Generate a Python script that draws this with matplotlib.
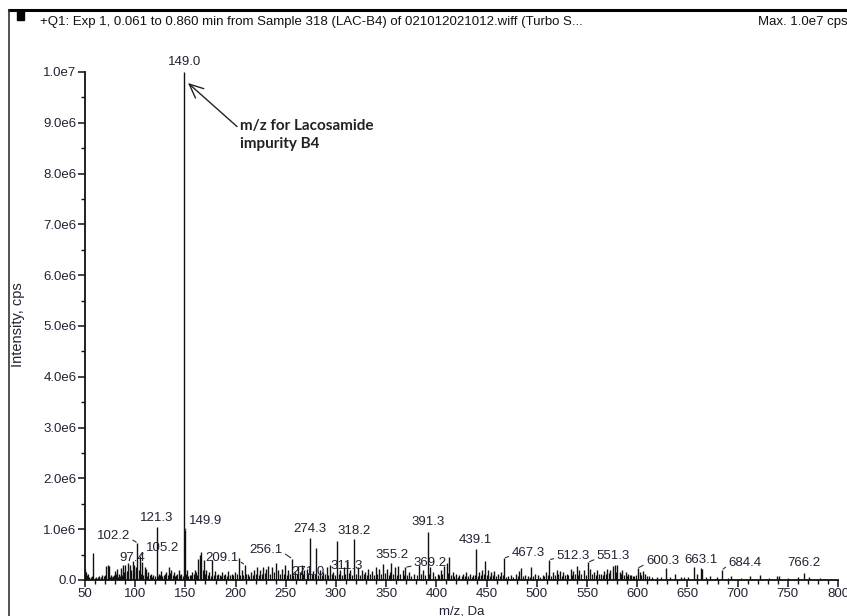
import matplotlib.pyplot as plt
from matplotlib.lines import Line2D
from matplotlib.patches import Rectangle
from matplotlib.ticker import MultipleLocator

plt.rcParams['font.family'] = ['Liberation Sans', 'DejaVu Sans']

# spectrum peaks: m/z and intensity (x1e6 cps)
mz = [50.0, 51.0, 52.0, 54.0, 58.0, 61.0, 64.0, 67.0, 71.0, 72.5, 74.0, 76.0, 78.0,
      80.0, 82.0, 84.0, 86.0, 88.0, 90.0, 93.0, 94.5, 97.4, 99.0, 100.5, 102.2,
      105.2, 107.0, 109.5, 111.0, 113.0, 116.0, 118.0, 121.3, 124.0, 126.0, 128.5,
      131.0, 134.0, 136.0, 139.0, 141.0, 143.5, 146.0, 149.0, 149.9, 152.0, 154.5,
      157.0, 159.7, 163.0, 164.6, 166.0, 168.6, 171.0, 173.5, 176.8, 179.5, 182.8,
      186.0, 189.4, 192.7, 196.0, 199.3, 203.3, 206.0, 209.1, 212.0, 215.3, 218.7,
      221.0, 224.3, 227.6, 230.0, 232.6, 236.0, 240.0, 242.6, 246.0, 249.3, 252.6,
      256.1, 259.0, 262.5, 265.8, 268.5, 271.0, 274.3, 277.0, 280.0, 284.0, 287.5,
      290.8, 294.0, 297.5, 301.0, 304.0, 307.5, 311.3, 314.0, 318.2, 322.0, 325.5,
      329.0, 332.0, 336.0, 339.5, 342.7, 347.0, 350.5, 355.2, 358.6, 362.0, 366.4,
      369.2, 373.0, 378.0, 383.0, 386.3, 391.3, 394.0, 396.4, 401.3, 404.7, 408.0,
      410.3, 413.0, 416.3, 419.7, 423.0, 426.3, 429.7, 433.0, 436.3, 439.1, 442.0,
      445.4, 448.0, 451.4, 454.0, 457.3, 461.4, 464.7, 467.3, 471.0, 474.8, 479.0,
      482.5, 484.0, 488.0, 491.0, 494.6, 498.0, 501.3, 505.7, 509.0, 512.3, 516.4,
      519.7, 523.0, 526.5, 529.8, 533.8, 536.4, 539.7, 542.4, 547.0, 551.3, 553.0,
      557.0, 560.4, 563.7, 567.0, 570.4, 573.0, 575.6, 577.5, 580.0, 582.6, 585.3,
      588.6, 591.0, 594.3, 597.0, 600.3, 602.6, 605.3, 607.6, 612.0, 619.3, 628.6,
      637.6, 644.0, 651.0, 656.6, 660.0, 663.1, 665.0, 672.5, 679.0, 684.4, 693.3,
      712.0, 722.0, 739.0, 741.0, 760.0, 766.2, 771.0]
intensity = [0.22, 0.15, 0.1, 0.06, 0.54, 0.05, 0.08, 0.1, 0.28, 0.3, 0.28, 0.1, 0.08,
             0.18, 0.22, 0.12, 0.23, 0.3, 0.3, 0.33, 0.3, 0.37, 0.3, 0.25, 0.73,
             0.47, 0.36, 0.25, 0.22, 0.15, 0.12, 0.1, 1.05, 0.12, 0.18, 0.1,
             0.15, 0.25, 0.2, 0.15, 0.1, 0.2, 0.12, 10.0, 0.98, 0.2, 0.1,
             0.15, 0.2, 0.42, 0.5, 0.55, 0.4, 0.2, 0.15, 0.4, 0.17, 0.12,
             0.15, 0.12, 0.18, 0.12, 0.15, 0.43, 0.2, 0.3, 0.12, 0.15, 0.2,
             0.25, 0.2, 0.25, 0.22, 0.28, 0.25, 0.33, 0.2, 0.22, 0.3, 0.2,
             0.42, 0.15, 0.28, 0.3, 0.2, 0.22, 0.83, 0.18, 0.63, 0.2, 0.15,
             0.25, 0.3, 0.15, 0.77, 0.2, 0.25, 0.38, 0.2, 0.8, 0.25, 0.2,
             0.15, 0.22, 0.18, 0.25, 0.22, 0.32, 0.22, 0.33, 0.25, 0.28, 0.2,
             0.25, 0.15, 0.12, 0.3, 0.2, 0.94, 0.25, 0.15, 0.12, 0.2, 0.27,
             0.33, 0.45, 0.15, 0.12, 0.1, 0.12, 0.15, 0.12, 0.1, 0.61, 0.15,
             0.2, 0.37, 0.2, 0.15, 0.18, 0.12, 0.15, 0.43, 0.08, 0.1, 0.12,
             0.17, 0.23, 0.1, 0.08, 0.25, 0.12, 0.1, 0.1, 0.15, 0.4, 0.15,
             0.2, 0.18, 0.15, 0.12, 0.22, 0.18, 0.27, 0.2, 0.2, 0.35, 0.22,
             0.15, 0.2, 0.12, 0.18, 0.22, 0.2, 0.28, 0.3, 0.3, 0.15, 0.2,
             0.15, 0.12, 0.1, 0.08, 0.23, 0.15, 0.18, 0.12, 0.08, 0.06, 0.24,
             0.12, 0.06, 0.06, 0.26, 0.12, 0.24, 0.22, 0.08, 0.06, 0.2, 0.08,
             0.08, 0.1, 0.07, 0.07, 0.06, 0.14, 0.05]

# low-level baseline signal between the main peaks
noise_mz = [53.0, 55.5, 57.0, 60.0, 62.5, 66.0, 69.0, 70.0, 75.0, 77.0, 79.0, 81.0,
            83.0, 85.0, 87.0, 89.0, 91.5, 92.0, 96.0, 98.0, 101.0, 103.5, 104.3, 106.0,
            108.0, 110.0, 112.0, 114.5, 117.0, 119.5, 122.5, 125.0, 127.0, 130.0,
            132.5, 135.0, 137.5, 140.0, 142.0, 145.0, 147.5, 151.0, 153.0, 156.0,
            158.5, 161.0, 162.0, 167.3, 170.0, 172.3, 175.0, 178.0, 181.0, 184.0,
            185.0, 188.0, 191.0, 194.0, 197.5, 201.0, 204.5, 207.5, 210.5, 213.5,
            217.0, 220.0, 223.0, 226.0, 229.0, 234.0, 238.0, 244.0, 248.0, 251.0,
            254.0, 257.5, 261.0, 264.0, 267.0, 272.5, 276.0, 279.0, 282.0, 286.0,
            289.0, 292.5, 296.0, 299.0, 302.5, 306.0, 309.0, 312.5, 316.0, 320.0,
            324.0, 327.5, 331.0, 334.0, 338.0, 341.0, 344.5, 349.0, 352.5, 354.0,
            357.0, 360.5, 364.0, 368.0, 371.0, 375.0, 380.5, 385.0, 388.5, 393.0,
            398.5, 403.0, 406.0, 412.0, 415.0, 418.0, 421.5, 425.0, 428.0, 431.5,
            435.0, 438.0, 441.0, 444.0, 447.0, 450.0, 453.0, 456.0, 459.5, 463.0,
            466.0, 469.0, 476.5, 481.0, 486.0, 493.0, 496.5, 503.5, 507.5, 511.0,
            514.5, 518.0, 521.5, 525.0, 528.0, 531.5, 535.0, 538.0, 541.0, 544.5,
            549.0, 555.0, 559.0, 562.0, 565.5, 569.0, 572.0, 579.0, 584.0, 587.0,
            590.0, 593.0, 596.0, 599.0, 604.0, 609.5, 615.0, 624.0, 633.0, 647.0,
            669.0, 690.0, 703.0, 731.0, 750.0, 782.0]
noise_int = [0.12, 0.05, 0.08, 0.04, 0.06, 0.05, 0.07, 0.1, 0.06, 0.05, 0.09, 0.12,
             0.06, 0.08, 0.1, 0.15, 0.18, 0.12, 0.2, 0.14, 0.18, 0.2, 0.15, 0.12,
             0.1, 0.16, 0.08, 0.1, 0.06, 0.08, 0.07, 0.1, 0.08, 0.12,
             0.09, 0.14, 0.1, 0.08, 0.12, 0.09, 0.07, 0.12, 0.08, 0.1,
             0.12, 0.15, 0.1, 0.2, 0.12, 0.1, 0.08, 0.1, 0.09, 0.1,
             0.08, 0.1, 0.08, 0.09, 0.1, 0.12, 0.1, 0.1, 0.12, 0.08,
             0.1, 0.12, 0.1, 0.12, 0.14, 0.12, 0.15, 0.12, 0.12, 0.1,
             0.12, 0.1, 0.12, 0.15, 0.12, 0.14, 0.12, 0.12, 0.1, 0.1,
             0.12, 0.1, 0.12, 0.1, 0.12, 0.1, 0.12, 0.14, 0.1, 0.12,
             0.1, 0.12, 0.1, 0.12, 0.1, 0.12, 0.12, 0.14, 0.1, 0.15,
             0.12, 0.1, 0.12, 0.1, 0.1, 0.08, 0.1, 0.12, 0.1, 0.12,
             0.08, 0.1, 0.12, 0.14, 0.1, 0.08, 0.06, 0.08, 0.07, 0.08,
             0.06, 0.1, 0.08, 0.1, 0.12, 0.1, 0.08, 0.1, 0.07, 0.08,
             0.1, 0.06, 0.06, 0.08, 0.07, 0.06, 0.08, 0.06, 0.08, 0.1,
             0.08, 0.1, 0.12, 0.08, 0.1, 0.09, 0.1, 0.12, 0.1, 0.12,
             0.1, 0.12, 0.1, 0.12, 0.1, 0.12, 0.14, 0.15, 0.12, 0.1,
             0.08, 0.1, 0.08, 0.1, 0.1, 0.08, 0.06, 0.05, 0.05, 0.05,
             0.05, 0.04, 0.04, 0.04, 0.04, 0.04]

# labelled peaks and where their text sits (pixel offset from the peak top)
peak_labels = ["97.4", "102.2", "105.2", "121.3", "149.0", "149.9", "209.1", "256.1",
               "271.0", "274.3", "311.3", "318.2", "355.2", "369.2", "391.3", "439.1",
               "467.3", "512.3", "551.3", "600.3", "663.1", "684.4", "766.2"]
label_offsets = {"97.4": (0, 3), "102.2": (-24, 7), "105.2": (22, 8), "121.3": (0, 9),
                 "149.0": (0, 10), "149.9": (20, 9), "209.1": (-23, 7), "256.1": (-26, 9),
                 "271.0": (1, -3), "274.3": (0, 9), "311.3": (-1, -5), "318.2": (0, 8),
                 "355.2": (1, 8), "369.2": (25, 4), "391.3": (0, 10), "439.1": (0, 9),
                 "467.3": (24, 5), "512.3": (24, 4), "551.3": (25, 6), "600.3": (25, 7),
                 "663.1": (0, 8), "684.4": (23, 7), "766.2": (0, 10)}

yticks = [0, 1, 2, 3, 4, 5, 6, 7, 8, 9, 10]
ytick_labels = ["0.0", "1.0e6", "2.0e6", "3.0e6", "4.0e6", "5.0e6", "6.0e6",
                "7.0e6", "8.0e6", "9.0e6", "1.0e7"]

W, H = 847, 616
fig = plt.figure(figsize=(W / 100, H / 100), dpi=100)
ax = fig.add_axes([85 / W, 1 - 580 / H, (838 - 85) / W, (580 - 72) / H])

ink = '#111111'
ax.vlines(noise_mz, 0, noise_int, color=ink, lw=0.9)
ax.vlines(mz, 0, intensity, color=ink, lw=1.0)

ax.set_xlim(50, 800)
ax.set_ylim(0, 10)
ax.spines['top'].set_visible(False)
ax.spines['right'].set_visible(False)
for s in ('left', 'bottom'):
    ax.spines[s].set_linewidth(1.3)
    ax.spines[s].set_color(ink)

ax.xaxis.set_major_locator(MultipleLocator(50))
ax.xaxis.set_minor_locator(MultipleLocator(10))
ax.set_yticks(yticks)
ax.set_yticklabels(ytick_labels)
ax.yaxis.set_minor_locator(MultipleLocator(0.5))
ax.tick_params(which='major', length=5, width=1.1, color=ink, labelsize=9.5,
               labelcolor='#222233', pad=1)
ax.tick_params(which='minor', length=3, width=1.0, color=ink)
ax.set_ylabel("Intensity, cps", fontsize=10.5, color='#222233', labelpad=0)
ax.yaxis.set_label_coords(-60 / (838 - 85), (580 - 325) / (580 - 72))

lookup = dict(zip(mz, intensity))
for lab in peak_labels:
    m = float(lab)
    dx, dy = label_offsets[lab]
    props = None
    if abs(dx) > 10:
        props = dict(arrowstyle='-', color='#333333', lw=0.8, shrinkA=0, shrinkB=1,
                     relpos=(1, 0.3) if dx < 0 else (0, 0.3))
    ax.annotate(lab, xy=(m, lookup[m]), xytext=(dx, dy), textcoords='offset pixels',
                ha='center', va='center', fontsize=9.5, color='#222233',
                arrowprops=props, annotation_clip=False)

# note pointing at the main peak
ax.annotate("", xy=(150.5, 9.82), xytext=(203.5, 8.89),
            arrowprops=dict(arrowstyle='->,head_length=1.0,head_width=0.45',
                            color='#222222', lw=1.0))
fig.text(240 / W, 1 - 135 / H, "m/z for Lacosamide\nimpurity B4", fontsize=11,
         fontweight='bold', family=['Lato', 'DejaVu Sans'], color='#222222',
         va='center', ha='left', linespacing=1.4)

# header band and frame
fig.add_artist(Line2D([9 / W, 1], [1 - 10 / H, 1 - 10 / H], color='black', lw=2.2))
fig.add_artist(Line2D([9 / W, 9 / W], [0, 1 - 10 / H], color='#333333', lw=1.2))
fig.add_artist(Rectangle((17 / W, 1 - 20 / H), 7 / W, 9 / H, color='black'))
fig.text(40 / W, 1 - 22 / H,
         "+Q1: Exp 1, 0.061 to 0.860 min from Sample 318 (LAC-B4) of 021012021012.wiff (Turbo S...",
         fontsize=9.5, va='center', ha='left', color='#111111')
fig.text(758 / W, 1 - 22 / H, "Max. 1.0e7 cps", fontsize=9.5, va='center', ha='left',
         color='#111111')
fig.text(462 / W, 1 - 611 / H, "m/z, Da", fontsize=9.5, va='center', ha='center',
         color='#222233')

fig.savefig('out.png', dpi=100)
